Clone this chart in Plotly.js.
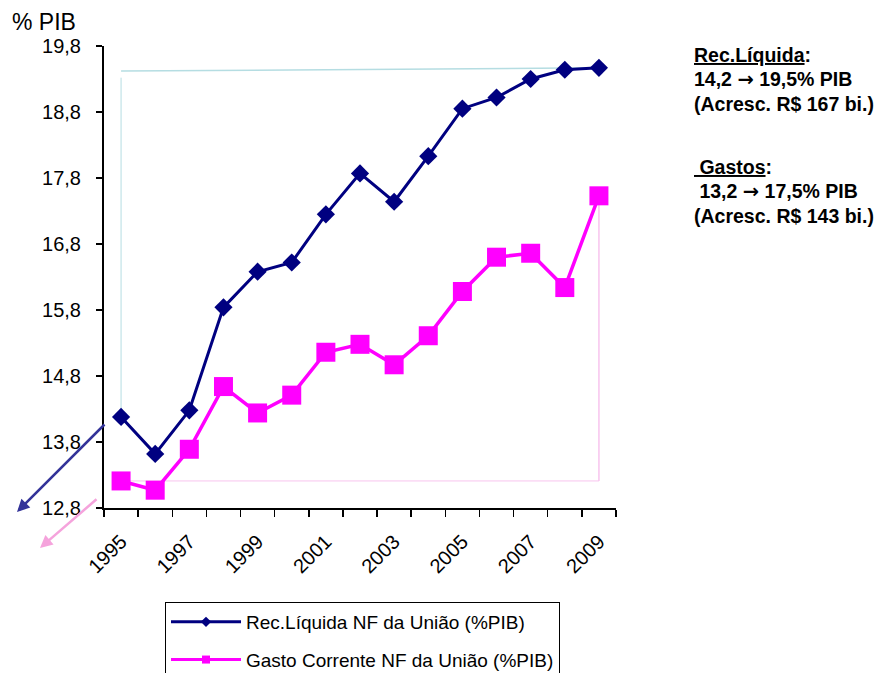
<!DOCTYPE html>
<html>
<head>
<meta charset="utf-8">
<script src="https://cdn.plot.ly/plotly-3.0.1.min.js"></script>
<style>html,body{margin:0;padding:0;background:#fff;}#chart{width:877px;height:673px;}</style>
</head>
<body>
<div id="chart"></div>
<script>
// ---- data ----
var years = [1995, 1996, 1997, 1998, 1999, 2000, 2001, 2002, 2003, 2004, 2005, 2006, 2007, 2008, 2009];
var recLiquida = [14.18, 13.62, 14.28, 15.84, 16.38, 16.52, 17.25, 17.87, 17.44, 18.13, 18.85, 19.02, 19.30, 19.44, 19.47];
var gastoCorrente = [13.21, 13.07, 13.69, 14.64, 14.24, 14.51, 15.16, 15.28, 14.97, 15.41, 16.08, 16.60, 16.66, 16.14, 17.53];
var xTickVals = [1995, 1997, 1999, 2001, 2003, 2005, 2007, 2009];
var xTickText = ['1995', '1997', '1999', '2001', '2003', '2005', '2007', '2009'];
var yTickVals = [12.8, 13.8, 14.8, 15.8, 16.8, 17.8, 18.8, 19.8];
var seriesNames = ['Rec.Líquida NF da União (%PIB)', 'Gasto Corrente NF da União (%PIB)'];
var ARW = '<span style="font-family:DejaVu Sans">→</span>';
var noteLines = ['<u>Rec.Líquida</u>:', '14,2 ' + ARW + ' 19,5% PIB', '(Acresc. R$ 167 bi.)',
                 '<u> Gastos</u>:', ' 13,2 ' + ARW + ' 17,5% PIB', '(Acresc. R$ 143 bi.)'];
var refTopRec = [19.32, 19.42];

var FONT = 'Liberation Sans, Arial, sans-serif';
var BLUE = '#000080', PINK = '#FF00FF';

var traces = [
  {x: years, y: recLiquida, type: 'scatter', mode: 'lines+markers', name: seriesNames[0], showlegend: false,
   line: {color: BLUE, width: 3}, marker: {symbol: 'diamond', size: 14, color: BLUE}},
  {x: years, y: gastoCorrente, type: 'scatter', mode: 'lines+markers', name: seriesNames[1], showlegend: false,
   line: {color: PINK, width: 3.5}, marker: {symbol: 'square', size: 19, color: PINK}},
  {x: [null], y: [null], type: 'scatter', mode: 'lines+markers', name: seriesNames[0], legendgroup: 'a',
   line: {color: BLUE, width: 3}, marker: {symbol: 'diamond', size: 8, color: BLUE}},
  {x: [null], y: [null], type: 'scatter', mode: 'lines+markers', name: seriesNames[1], legendgroup: 'b',
   line: {color: PINK, width: 3}, marker: {symbol: 'square', size: 8, color: PINK}}
];

var n = years.length - 1;
var shapes = [
  {type: 'line', layer: 'below', x0: years[0], x1: years[0], y0: recLiquida[0], y1: refTopRec[0], line: {color: '#b5dde2', width: 1}},
  {type: 'line', layer: 'below', x0: years[0], x1: years[n], y0: refTopRec[1], y1: recLiquida[n], line: {color: '#b5dde2', width: 1.5}},
  {type: 'line', layer: 'below', x0: years[0], x1: years[n], y0: gastoCorrente[0], y1: gastoCorrente[0], line: {color: '#f8c4ee', width: 1}},
  {type: 'line', layer: 'below', x0: years[n], x1: years[n], y0: gastoCorrente[0], y1: gastoCorrente[n], line: {color: '#f8c4ee', width: 1.5}}
];

var noteY = [55, 80, 104, 167, 192, 216];
var annotations = [
  {xref: 'paper', yref: 'paper', x: -0.184, y: (508 - 22) / 462, xanchor: 'left', yanchor: 'middle',
   text: '% PIB', showarrow: false, font: {family: FONT, size: 23, color: '#000'}},
  {xref: 'paper', yref: 'paper', x: (17 - 104) / 512, y: (508 - 512) / 462, text: '', showarrow: true,
   ax: 89, ay: -89, arrowhead: 2, arrowsize: 1, arrowwidth: 2.5, arrowcolor: '#333399'},
  {xref: 'paper', yref: 'paper', x: (40 - 104) / 512, y: (508 - 548) / 462, text: '', showarrow: true,
   ax: 58, ay: -50, arrowhead: 2, arrowsize: 1, arrowwidth: 2.5, arrowcolor: '#f5a3dc'}
];
noteLines.forEach(function (t, i) {
  annotations.push({xref: 'paper', yref: 'paper', x: (692 - 104) / 512, y: (508 - noteY[i]) / 462,
    xanchor: 'left', yanchor: 'middle', align: 'left', showarrow: false, text: '<b>' + t + '</b>',
    font: {family: FONT, size: 19.5, color: '#000'}});
});

var layout = {
  width: 877, height: 673,
  margin: {l: 104, r: 261, t: 46, b: 165, autoexpand: false},
  paper_bgcolor: '#fff', plot_bgcolor: '#fff',
  separators: ',.',
  font: {family: FONT, size: 19, color: '#000'},
  showlegend: true,
  xaxis: {
    type: 'linear', range: [1994.5, 2009.5], tickvals: xTickVals, ticktext: xTickText,
    ticks: '', tickangle: -45, ticklabelstandoff: 12, tickfont: {family: FONT, size: 20, color: '#000'},
    showgrid: false, zeroline: false, showline: true, linecolor: '#000', linewidth: 2,
    minor: {ticks: 'outside', tick0: 1994.5, dtick: 1, ticklen: 7, tickwidth: 1.5, tickcolor: '#000', showgrid: false},
    fixedrange: true
  },
  yaxis: {
    range: [12.8, 19.8], tickvals: yTickVals, tickformat: '.1f',
    ticks: 'outside', ticklen: 6, tickwidth: 1.5, tickcolor: '#000', ticklabelstandoff: 11,
    tickfont: {family: FONT, size: 20, color: '#000'},
    showgrid: false, zeroline: false, showline: true, linecolor: '#000', linewidth: 2,
    fixedrange: true
  },
  legend: {
    x: (165 - 104) / 512, y: (508 - 602) / 462, xanchor: 'left', yanchor: 'top',
    bordercolor: '#000', borderwidth: 1, bgcolor: '#fff',
    traceorder: 'grouped', tracegroupgap: 10, itemwidth: 70,
    font: {family: FONT, size: 19, color: '#000'}
  },
  shapes: shapes,
  annotations: annotations
};

Plotly.newPlot('chart', traces, layout, {displayModeBar: false, staticPlot: true});
</script>
</body>
</html>
